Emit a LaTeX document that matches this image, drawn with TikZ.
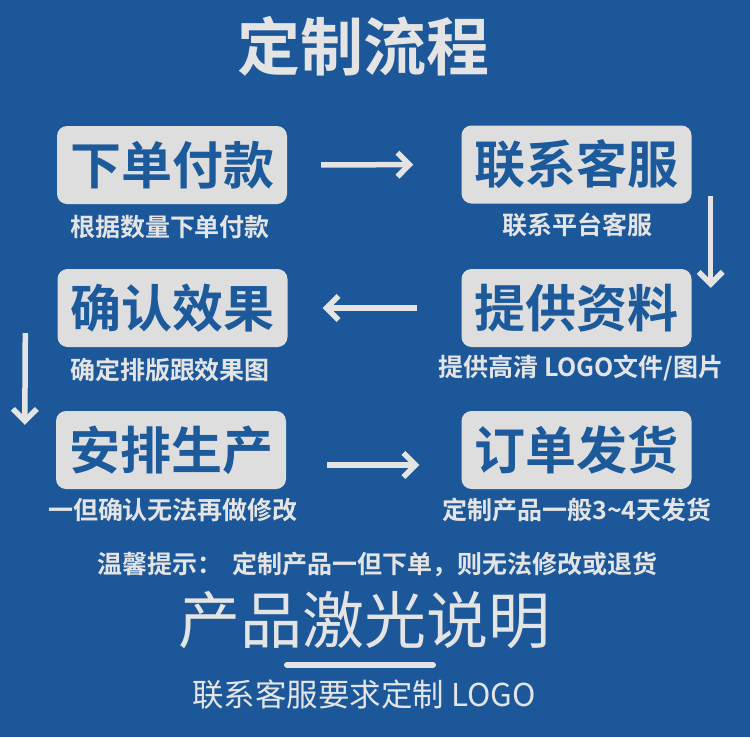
\documentclass[tikz,border=0pt]{standalone}
\usepackage{fontspec}
\setmainfont{Noto Sans CJK SC}
\newfontfamily\cjkb{Noto Sans CJK SC Bold}
\usetikzlibrary{arrows.meta,calc}
\definecolor{bgblue}{HTML}{1C5899}
\definecolor{boxgray}{HTML}{DEDEDE}
\definecolor{txtblue}{HTML}{1C5A9B}
\definecolor{lightt}{HTML}{E4E4E4}
\tikzset{
  stepbox/.style={fill=boxgray, rounded corners=10pt, minimum width=230pt, minimum height=78pt, inner sep=0pt, text=txtblue, font=\cjkb\fontsize{51}{60}\selectfont},
  steplabel/.style={text=lightt, inner sep=0pt, font=\cjkb\fontsize{25}{30}\selectfont},
  arr/.style={draw=lightt, line width=5.5pt, -{Straight Barb[length=12pt,width=24pt]}},
}
\begin{document}
\begin{tikzpicture}[x=1pt,y=-1pt]
\fill[bgblue] (0,0) rectangle (750,737);
\useasboundingbox (0,0) rectangle (750,737);
\node[text=lightt, font=\cjkb\fontsize{63}{70}\selectfont] (title) at (363,46) {定制流程};

\node[stepbox] (b1) at (172,165) {下单付款};
\node[stepbox] (b2) at (576.5,164.5) {联系客服};
\node[stepbox] (b3) at (576.5,308) {提供资料};
\node[stepbox] (b4) at (172.5,308) {确认效果};
\node[stepbox] (b5) at (171,450) {安排生产};
\node[stepbox] (b6) at (576.5,450) {订单发货};

\node[steplabel] (l1) at (170,227) {根据数量下单付款};
\node[steplabel] (l2) at (577,225) {联系平台客服};
\node[steplabel] (l3) at (581,368) {提供高清 LOGO文件/图片};
\node[steplabel] (l4) at (170,370) {确定排版跟效果图};
\node[steplabel] (l5) at (173,510) {一但确认无法再做修改};
\node[steplabel] (l6) at (577,510) {定制产品一般3\char"7E 4天发货};

\draw[arr, shorten <=34pt, shorten >=48pt] (b1.east) -- (b2.west);
\draw[arr] ($(b2.south east)+(19,-8)$) -- ($(b3.north east)+(19,19)$);
\draw[arr, shorten <=44pt, shorten >=35pt] (b3.west) -- (b4.east);
\draw[arr] ($(b4.south west)+(-32,-14)$) -- ($(b5.north west)+(-31,14)$);
\draw[arr, shorten <=41pt, shorten >=42pt] ([yshift=-15pt]b5.east) -- ([yshift=-15pt]b6.west);

\node[text=lightt, inner sep=0pt, anchor=west, font=\cjkb\fontsize{25}{30}\selectfont] (tip) at (97,564) {温馨提示：\hspace{10pt}定制产品一但下单，则无法修改或退货};
\node[text=lightt, inner sep=0pt, font=\fontsize{62}{70}\selectfont] (sub) at (364,620) {产品激光说明};
\coordinate (la) at (287,665);
\coordinate (lb) at (433,665);
\draw[lightt, line width=6pt, line cap=round] (la) -- (lb);
\node[text=lightt, inner sep=0pt, font=\fontsize{31.5}{34}\selectfont] (ct) at (364,695) {联系客服要求定制 LOGO};
\end{tikzpicture}
\end{document}
